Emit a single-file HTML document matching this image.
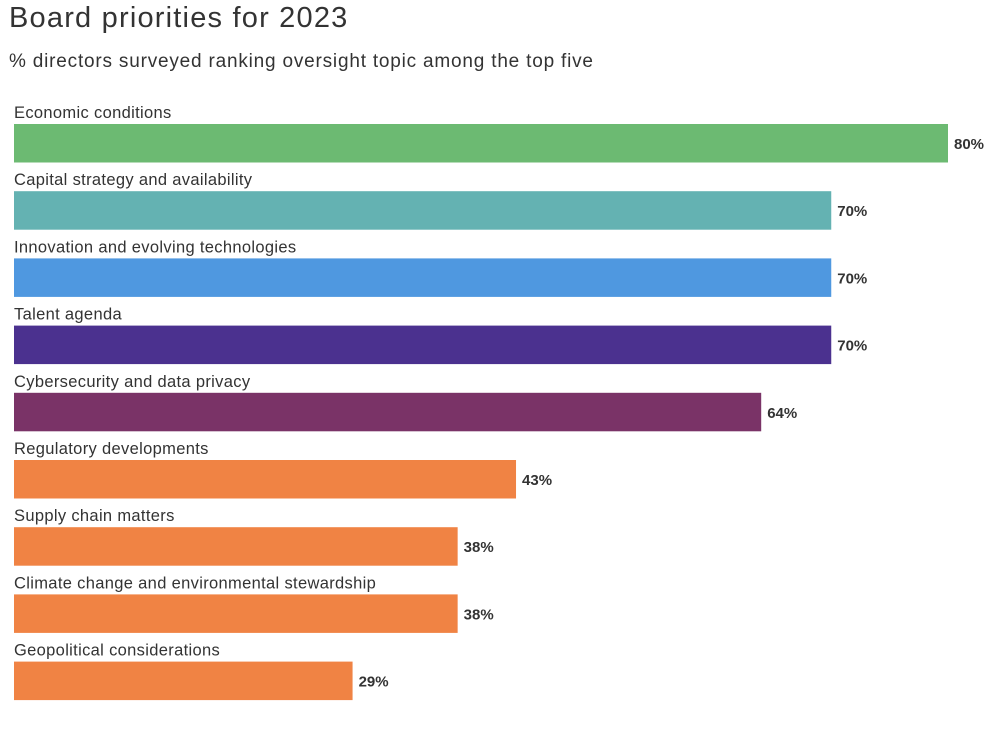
<!DOCTYPE html>
<html><head><meta charset="utf-8"><style>
body{margin:0;background:#fff;width:1000px;height:729px;overflow:hidden;font-family:"Liberation Sans",sans-serif;color:#333}
#title{position:absolute;left:9px;top:2px;font-size:29px;letter-spacing:1.2px;color:#333}
#sub{position:absolute;left:9px;top:51px;font-size:19px;letter-spacing:0.8px;color:#333}
</style></head><body>
<div id="title">Board priorities for 2023</div>
<div id="sub">% directors surveyed ranking oversight topic among the top five</div>
<svg id="chart" width="1000" height="729" style="position:absolute;left:0;top:0"></svg>
<script>
const categories=["Economic conditions","Capital strategy and availability","Innovation and evolving technologies","Talent agenda","Cybersecurity and data privacy","Regulatory developments","Supply chain matters","Climate change and environmental stewardship","Geopolitical considerations"];
const values=[80,70,70,70,64,43,38,38,29];
const colors=["#6cba72","#64b2b2","#4f98e0","#4b318f","#7a3367","#f08344","#f08344","#f08344","#f08344"];
const svg=document.getElementById('chart');
const NS='http://www.w3.org/2000/svg';
const x=v=>v*934/80;
const y=i=>124+i*67.2;
categories.forEach((c,i)=>{
  const t=document.createElementNS(NS,'text');
  
  
  t.setAttribute('x',14);t.setAttribute('y',y(i)-6);
  t.setAttribute('font-size','16.5');t.setAttribute('letter-spacing','0.33');t.setAttribute('fill','#333');
  t.setAttribute('font-family','Liberation Sans, sans-serif');
  t.textContent=c;svg.appendChild(t);
  const r=document.createElementNS(NS,'rect');
  
  
  r.setAttribute('x',14);r.setAttribute('y',y(i));
  r.setAttribute('width',x(values[i]));r.setAttribute('height',38.5);
  r.setAttribute('fill',colors[i]);svg.appendChild(r);
  const v=document.createElementNS(NS,'text');
  
  
  v.setAttribute('x',14+x(values[i])+6);v.setAttribute('y',y(i)+25);
  v.setAttribute('font-size','15');v.setAttribute('font-weight','bold');v.setAttribute('fill','#333');
  v.setAttribute('font-family','Liberation Sans, sans-serif');
  v.textContent=values[i]+'%';svg.appendChild(v);
});
</script>
</body></html>
